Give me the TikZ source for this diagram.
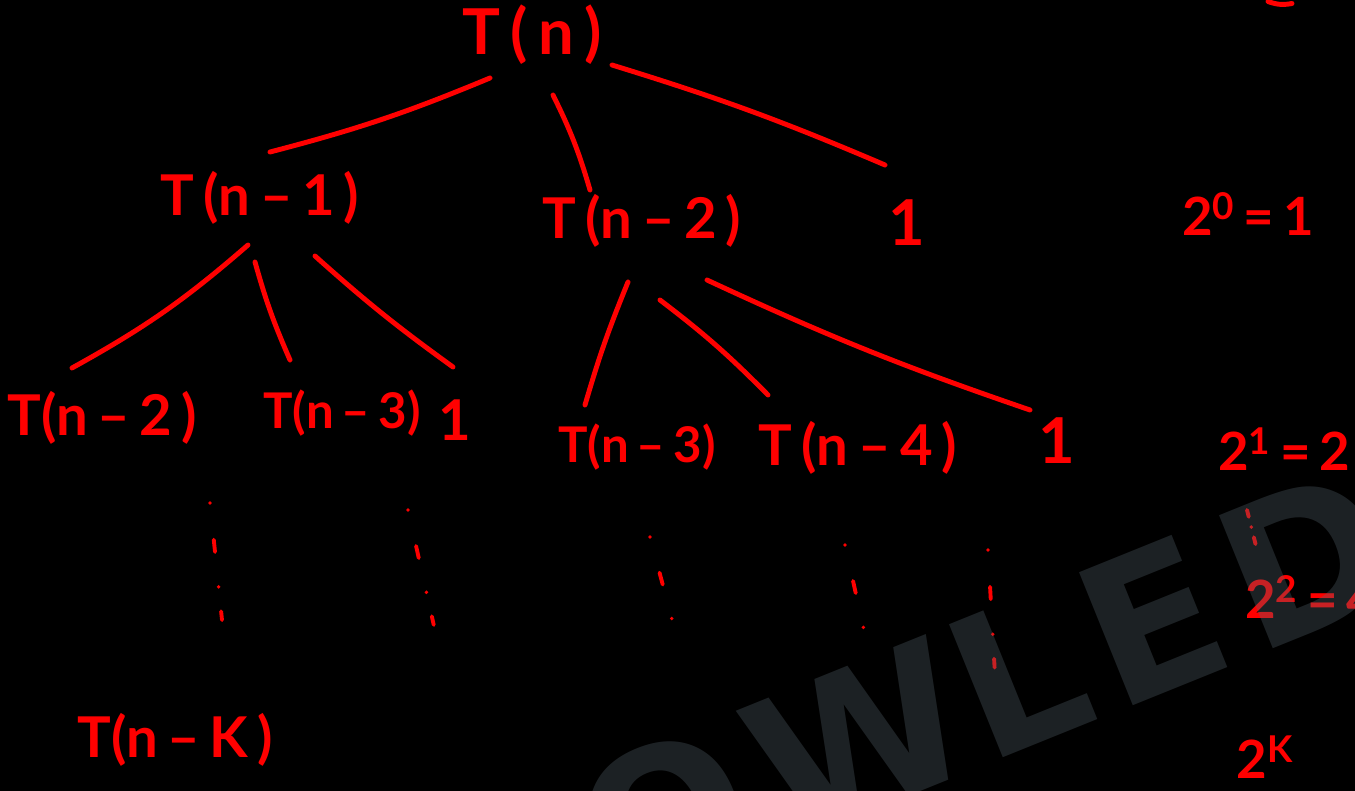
\documentclass[tikz,border=0pt]{standalone}
\usepackage{fontspec}
\setmainfont{Lato}
\newfontfamily\markfont[LetterSpace=8]{DejaVu Sans}
\usetikzlibrary{positioning}
\definecolor{ink}{HTML}{FF0000}
\definecolor{board}{HTML}{000000}
\definecolor{wmark}{RGB}{88,102,112}
\tikzset{
  term/.style={text=ink, font=\bfseries\fontsize{32}{36}\selectfont, inner sep=0pt, anchor=base},
  small/.style={term, font=\bfseries\fontsize{28}{32}\selectfont},
  power/.style={text=ink, font=\bfseries\fontsize{30}{34}\selectfont, inner sep=0pt, anchor=base},
  branch/.style={draw=ink, line width=2.8pt, line cap=round},
  etc/.style={draw=ink, line width=2.2pt, line cap=round,
    dash pattern=on 0pt off 21pt on 7pt off 20pt on 0pt off 14pt on 5pt off 30pt},
  wm/.style={text=wmark, text opacity=0.33, font=\markfont\bfseries\fontsize{112}{118}\selectfont,
    rotate=22, inner sep=0pt},
}

\begin{document}
\begin{tikzpicture}

% -- board --------------------------------------------------------
\fill[board] (0,0) rectangle (27.1,-15.82);
\useasboundingbox (0,0) rectangle (27.1,-15.82);
\clip (0,0) rectangle (27.1,-15.82);

% -- level 0 ------------------------------------------------------
\node[term, font=\bfseries\fontsize{36}{40}\selectfont] (tn) at (10.64,-1.10) {T\,(\,n\,)};

% -- level 1 ------------------------------------------------------
\node[term] (tn1)  at (5.2,-4.3)   {T\,(n\,--\,1\,)};
\node[term] (tn2b) at (12.84,-4.76) {T\,(n\,--\,2\,)};
\node[term, font=\bfseries\fontsize{36}{40}\selectfont] (one1) at (18.14,-4.9) {1};

% -- level 2 ------------------------------------------------------
\node[term]  (tn2a) at (2.04,-8.7)   {T(n\,--\,2\,)};
\node[small] (tn3a) at (6.84,-8.56)  {T(n\,--\,3)};
\node[term]  (one2) at (9.1,-8.8)    {1};
\node[small] (tn3b) at (12.74,-9.24) {T(n\,--\,3)};
\node[term]  (tn4)  at (17.16,-9.3)  {T\,(n\,--\,4\,)};
\node[term, font=\bfseries\fontsize{36}{40}\selectfont] (one3) at (21.14,-9.26) {1};

% -- bottom -------------------------------------------------------
\node[term] (tnk) at (3.5,-15.14) {T(n\,--\,K\,)};

% -- counts per level (right) --------------------------------------
\node[power] (p0) at (24.96,-4.7) {2\textsuperscript{0}\,=\,1};
\node[power, anchor=base west] (p1) at (24.36,-9.4)  {2\textsuperscript{1}\,=\,2};
\node[power, anchor=base west] (p2) at (24.9,-12.36) {2\textsuperscript{2}\,=\,4};
\node[power] (pk) at (25.3,-15.56) {2\textsuperscript{K}};

% -- branches -----------------------------------------------------
\draw[branch] ([shift={(-0.84,-0.46)}]tn.base) to[bend left=4] ([shift={(0.2,1.26)}]tn1.base);
\draw[branch] ([shift={(0.42,-0.8)}]tn.base) to[bend left=5] ([shift={(-1.04,0.96)}]tn2b.base);
\draw[branch] ([shift={(1.6,-0.2)}]tn.base) to[bend left=3] ([shift={(-0.44,1.6)}]one1.base);

\draw[branch] ([shift={(-0.24,-0.6)}]tn1.base) to[bend left=6] ([shift={(-0.6,1.34)}]tn2a.base);
\draw[branch] ([shift={(-0.1,-0.94)}]tn1.base) to[bend right=4] ([shift={(-1.04,1.36)}]tn3a.base);
\draw[branch] ([shift={(1.1,-0.82)}]tn1.base) to[bend right=3] ([shift={(-0.04,1.46)}]one2.base);

\draw[branch] ([shift={(-0.28,-0.88)}]tn2b.base) to[bend right=3] ([shift={(-1.04,1.14)}]tn3b.base);
\draw[branch] ([shift={(0.36,-1.24)}]tn2b.base) to[bend left=4] ([shift={(-1.8,1.4)}]tn4.base);
\draw[branch] ([shift={(1.3,-0.84)}]tn2b.base) to[bend right=3] ([shift={(-0.54,1.06)}]one3.base);

% -- continuation dots --------------------------------------------
\coordinate (da1) at (4.2,-10.06);  \coordinate (da2) at (4.44,-12.4);
\coordinate (db1) at (8.16,-10.2);  \coordinate (db2) at (8.72,-12.7);
\coordinate (dc1) at (13.0,-10.74); \coordinate (dc2) at (13.54,-12.76);
\coordinate (dd1) at (16.9,-10.9);  \coordinate (dd2) at (17.36,-12.96);
\coordinate (de1) at (19.76,-11.0); \coordinate (de2) at (19.9,-13.5);
\coordinate (df1) at (24.94,-10.2); \coordinate (df2) at (25.14,-11.0);
\draw[etc] (da1) -- (da2);
\draw[etc] (db1) -- (db2);
\draw[etc] (dc1) -- (dc2);
\draw[etc] (dd1) -- (dd2);
\draw[etc] (de1) -- (de2);
\draw[etc, dash pattern=on 4pt off 6pt on 0pt off 6pt] (df1) -- (df2);

% fragment cut by the top edge
\draw[branch] (25.36,-0.03) to[bend right=15] (25.84,-0.07);

% -- watermark ----------------------------------------------------
\node[wm, anchor=base west] (mark2) at (19.72,-15.3) {LEDGE};
\node[wm, anchor=base east] (mark1) at (mark2.base west) {KNOW};

\end{tikzpicture}
\end{document}
